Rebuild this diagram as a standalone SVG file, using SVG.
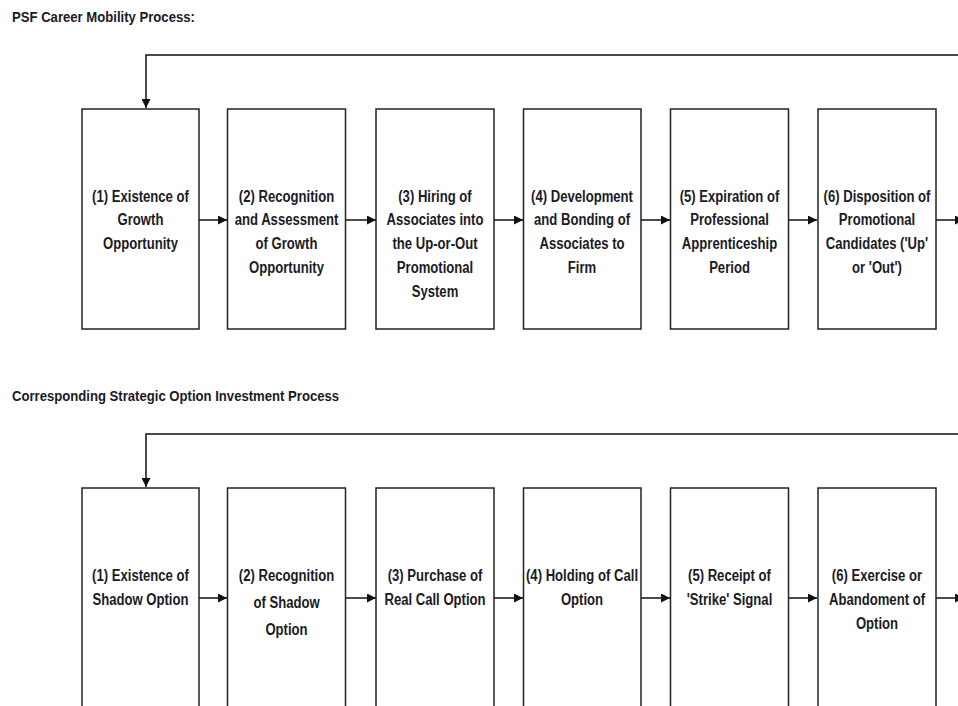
<svg xmlns="http://www.w3.org/2000/svg" width="958" height="706" viewBox="0 0 958 706">
  <defs>
    <marker id="arrow" viewBox="0 0 10 10" refX="10" refY="5" markerWidth="9" markerHeight="9" markerUnits="userSpaceOnUse" orient="auto">
      <path d="M0,0 L10,5 L0,10 z" fill="#111"/>
    </marker>
    <style>
      .box { fill: #fff; stroke: #222; stroke-width: 1.5; }
      .lbl { font-family: "Liberation Sans", Arial, sans-serif; font-weight: bold; font-size: 16.6px; fill: #1b1b26; text-anchor: middle; }
      .title { font-family: "Liberation Sans", Arial, sans-serif; font-weight: bold; font-size: 15px; fill: #1b1b26; }
      .conn { fill: none; stroke: #111; stroke-width: 1.5; marker-end: url(#arrow); }
    </style>
  </defs>
  <rect width="958" height="706" fill="#fff"/>

  <!-- section headings, narrowed horizontally -->
  <text class="title" transform="translate(12,22) scale(0.875,1)">PSF Career Mobility Process:</text>
  <text class="title" transform="translate(12,401) scale(0.875,1)">Corresponding Strategic Option Investment Process</text>

  <!-- connectors -->
  <g id="connectors">
    <path class="conn" d="M960,55 H146 V108"/>
    <path class="conn" d="M199,220 H227"/>
    <path class="conn" d="M345,220 H376"/>
    <path class="conn" d="M494,220 H523"/>
    <path class="conn" d="M641,220 H670"/>
    <path class="conn" d="M788,220 H817"/>
    <path class="conn" d="M936,220 H964"/>

    <path class="conn" d="M960,434 H146 V487"/>
    <path class="conn" d="M199,598 H227"/>
    <path class="conn" d="M345,598 H376"/>
    <path class="conn" d="M494,598 H523"/>
    <path class="conn" d="M641,598 H670"/>
    <path class="conn" d="M788,598 H817"/>
    <path class="conn" d="M936,598 H964"/>
  </g>

  <!-- career mobility steps (labels condensed with a horizontal scale about the box centre) -->
  <g id="career-1">
    <rect class="box" x="82" y="109" width="117" height="220"/>
    <text class="lbl" transform="translate(140.5,201.5) scale(0.79,1)">(1) Existence of<tspan x="0" dy="24">Growth</tspan><tspan x="0" dy="24">Opportunity</tspan></text>
  </g>
  <g id="career-2">
    <rect class="box" x="227.5" y="109" width="118" height="220"/>
    <text class="lbl" transform="translate(286.5,201.5) scale(0.79,1)">(2) Recognition<tspan x="0" dy="24">and Assessment</tspan><tspan x="0" dy="24">of Growth</tspan><tspan x="0" dy="24">Opportunity</tspan></text>
  </g>
  <g id="career-3">
    <rect class="box" x="376" y="109" width="118" height="220"/>
    <text class="lbl" transform="translate(435,201.5) scale(0.79,1)">(3) Hiring of<tspan x="0" dy="24">Associates into</tspan><tspan x="0" dy="24">the Up-or-Out</tspan><tspan x="0" dy="24">Promotional</tspan><tspan x="0" dy="24">System</tspan></text>
  </g>
  <g id="career-4">
    <rect class="box" x="523.5" y="109" width="117.5" height="220"/>
    <text class="lbl" transform="translate(582,201.5) scale(0.79,1)">(4) Development<tspan x="0" dy="24">and Bonding of</tspan><tspan x="0" dy="24">Associates to</tspan><tspan x="0" dy="24">Firm</tspan></text>
  </g>
  <g id="career-5">
    <rect class="box" x="670.5" y="109" width="118" height="220"/>
    <text class="lbl" transform="translate(729.5,201.5) scale(0.79,1)">(5) Expiration of<tspan x="0" dy="24">Professional</tspan><tspan x="0" dy="24">Apprenticeship</tspan><tspan x="0" dy="24">Period</tspan></text>
  </g>
  <g id="career-6">
    <rect class="box" x="818" y="109" width="118" height="220"/>
    <text class="lbl" transform="translate(877,201.5) scale(0.79,1)">(6) Disposition of<tspan x="0" dy="24">Promotional</tspan><tspan x="0" dy="24">Candidates ('Up'</tspan><tspan x="0" dy="24">or 'Out')</tspan></text>
  </g>

  <!-- option investment steps -->
  <g id="option-1">
    <rect class="box" x="82" y="488" width="117" height="240"/>
    <text class="lbl" transform="translate(140.5,581) scale(0.79,1)">(1) Existence of<tspan x="0" dy="24">Shadow Option</tspan></text>
  </g>
  <g id="option-2">
    <rect class="box" x="227.5" y="488" width="118" height="240"/>
    <text class="lbl" transform="translate(286.5,581) scale(0.79,1)">(2) Recognition<tspan x="0" dy="27">of Shadow</tspan><tspan x="0" dy="27">Option</tspan></text>
  </g>
  <g id="option-3">
    <rect class="box" x="376" y="488" width="118" height="240"/>
    <text class="lbl" transform="translate(435,581) scale(0.79,1)">(3) Purchase of<tspan x="0" dy="24">Real Call Option</tspan></text>
  </g>
  <g id="option-4">
    <rect class="box" x="523.5" y="488" width="117.5" height="240"/>
    <text class="lbl" transform="translate(582,581) scale(0.79,1)">(4) Holding of Call<tspan x="0" dy="24">Option</tspan></text>
  </g>
  <g id="option-5">
    <rect class="box" x="670.5" y="488" width="118" height="240"/>
    <text class="lbl" transform="translate(729.5,581) scale(0.79,1)">(5) Receipt of<tspan x="0" dy="24">'Strike' Signal</tspan></text>
  </g>
  <g id="option-6">
    <rect class="box" x="818" y="488" width="118" height="240"/>
    <text class="lbl" transform="translate(877,581) scale(0.79,1)">(6) Exercise or<tspan x="0" dy="24">Abandoment of</tspan><tspan x="0" dy="24">Option</tspan></text>
  </g>
</svg>
